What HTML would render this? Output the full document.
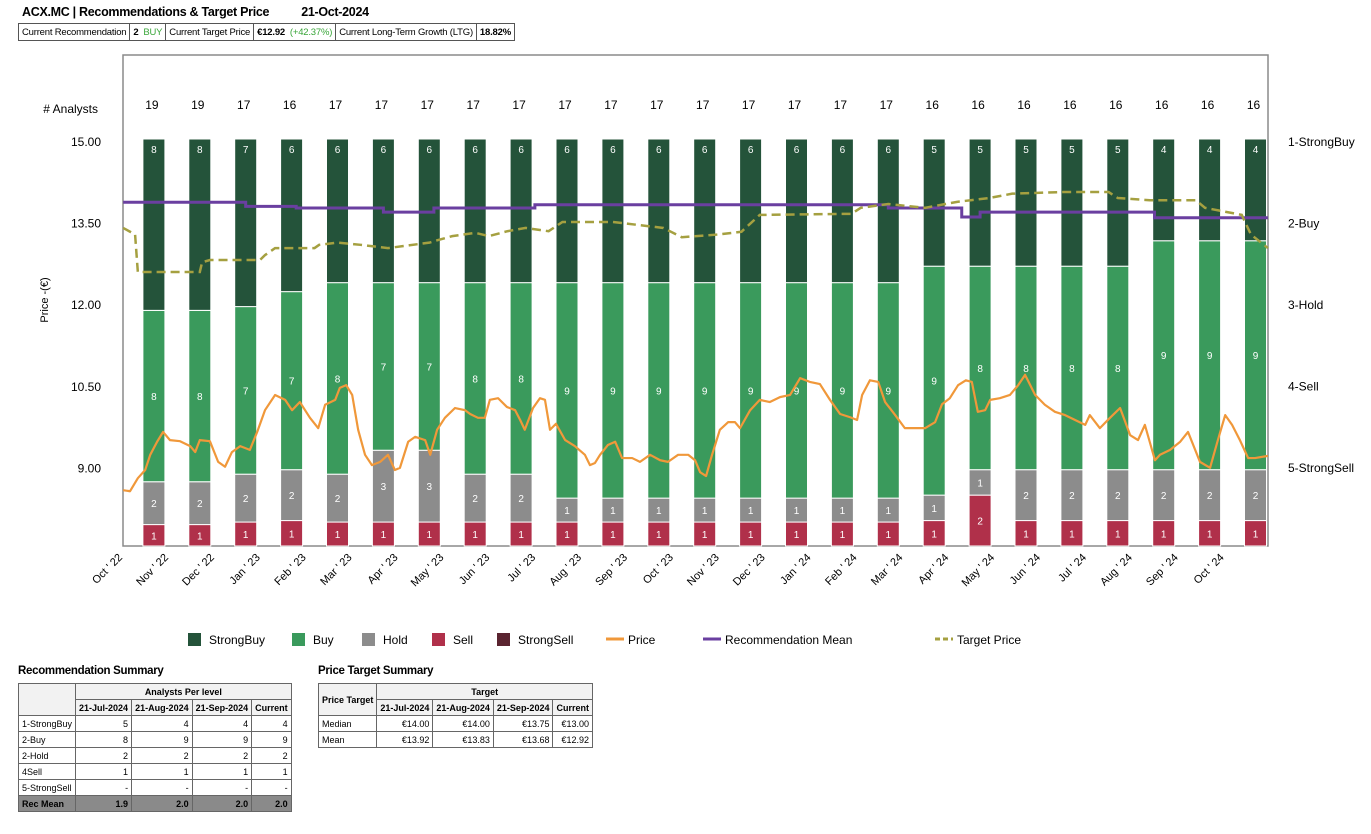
<!DOCTYPE html>
<html><head><meta charset="utf-8">
<style>
body{margin:0;width:1371px;height:834px;background:#fff;font-family:"Liberation Sans",Arial,sans-serif;position:relative;overflow:hidden}
.title{position:absolute;left:22px;top:5px;font-size:12.5px;font-weight:bold;letter-spacing:-0.3px}
.hdr{position:absolute;left:18px;top:23px;border-collapse:collapse;font-size:9.5px;letter-spacing:-0.2px}
.hdr td{border:1px solid #555;padding:2px 3px;height:12px;white-space:nowrap}
.sec{position:absolute;font-size:11.5px;font-weight:bold;letter-spacing:-0.3px}
table.t{position:absolute;border-collapse:collapse;font-size:9px}
table.t td{border:1px solid #666;padding:1px 3px;height:13px;white-space:nowrap}
.r{text-align:right}.c{text-align:center}.b{font-weight:bold}.g{background:#f2f2f2}
.dk td{background:#8a8a8a;font-weight:bold}
</style></head><body>
<div class="title">ACX.MC | Recommendations &amp; Target Price<span style="margin-left:32px">21-Oct-2024</span></div>
<table class="hdr"><tr>
<td>Current Recommendation</td><td><b>2</b> &nbsp;<span style="color:#3aa63a">BUY</span></td><td>Current Target Price</td><td><b>€12.92</b> &nbsp;<span style="color:#3aa63a">(+42.37%)</span></td><td>Current Long-Term Growth (LTG)</td><td><b>18.82%</b></td></tr></table>

<svg id="chart" width="1371" height="834" style="position:absolute;left:0;top:0"></svg>

<div class="sec" style="left:18px;top:665px">Recommendation Summary</div>
<table class="t" style="left:18px;top:683px;width:272px">
<tr><td class="g" rowspan="2" style="width:50px"></td><td colspan="4" class="c b g">Analysts Per level</td></tr>
<tr class="b c g"><td class="g">21-Jul-2024</td><td class="g">21-Aug-2024</td><td class="g">21-Sep-2024</td><td class="g">Current</td></tr>
<tr><td>1-StrongBuy</td><td class="r">5</td><td class="r">4</td><td class="r">4</td><td class="r">4</td></tr>
<tr><td>2-Buy</td><td class="r">8</td><td class="r">9</td><td class="r">9</td><td class="r">9</td></tr>
<tr><td>2-Hold</td><td class="r">2</td><td class="r">2</td><td class="r">2</td><td class="r">2</td></tr>
<tr><td>4Sell</td><td class="r">1</td><td class="r">1</td><td class="r">1</td><td class="r">1</td></tr>
<tr><td>5-StrongSell</td><td class="r">-</td><td class="r">-</td><td class="r">-</td><td class="r">-</td></tr>
<tr class="dk"><td>Rec Mean</td><td class="r">1.9</td><td class="r">2.0</td><td class="r">2.0</td><td class="r">2.0</td></tr>
</table>
<div class="sec" style="left:318px;top:665px">Price Target Summary</div>
<table class="t" style="left:318px;top:683px;width:275px">
<tr><td class="g b" rowspan="2">Price Target</td><td colspan="4" class="c b g">Target</td></tr>
<tr class="b c"><td class="g">21-Jul-2024</td><td class="g">21-Aug-2024</td><td class="g">21-Sep-2024</td><td class="g">Current</td></tr>
<tr><td>Median</td><td class="r">€14.00</td><td class="r">€14.00</td><td class="r">€13.75</td><td class="r">€13.00</td></tr>
<tr><td>Mean</td><td class="r">€13.92</td><td class="r">€13.83</td><td class="r">€13.68</td><td class="r">€12.92</td></tr>
</table>

<script>
const months=["Oct ' 22","Nov ' 22","Dec ' 22","Jan ' 23","Feb ' 23","Mar ' 23","Apr ' 23","May ' 23","Jun ' 23","Jul ' 23","Aug ' 23","Sep ' 23","Oct ' 23","Nov ' 23","Dec ' 23","Jan ' 24","Feb ' 24","Mar ' 24","Apr ' 24","May ' 24","Jun ' 24","Jul ' 24","Aug ' 24","Sep ' 24","Oct ' 24"];
const strongBuy=[8,8,7,6,6,6,6,6,6,6,6,6,6,6,6,6,6,5,5,5,5,5,4,4,4];
const buy=[8,8,7,7,8,7,7,8,8,9,9,9,9,9,9,9,9,9,8,8,8,8,9,9,9];
const hold=[2,2,2,2,2,3,3,2,2,1,1,1,1,1,1,1,1,1,1,2,2,2,2,2,2];
const sell=[1,1,1,1,1,1,1,1,1,1,1,1,1,1,1,1,1,1,2,1,1,1,1,1,1];
const strongSell=[0,0,0,0,0,0,0,0,0,0,0,0,0,0,0,0,0,0,0,0,0,0,0,0,0];
const priceTicks=[15.00,13.50,12.00,10.50,9.00];
const recLabels=["1-StrongBuy","2-Buy","3-Hold","4-Sell","5-StrongSell"];
const priceT=[0.33,0.48,0.65,0.81,0.92,1.07,1.20,1.35,1.57,1.79,1.90,2.00,2.22,2.40,2.55,2.70,2.88,3.09,3.25,3.42,3.64,3.86,4.01,4.18,4.40,4.58,4.73,4.95,5.05,5.19,5.32,5.45,5.60,5.75,5.93,6.10,6.25,6.36,6.54,6.69,6.91,7.02,7.17,7.34,7.56,7.78,7.89,8.06,8.21,8.32,8.50,8.69,8.87,8.98,9.08,9.26,9.41,9.52,9.63,9.76,9.96,10.17,10.39,10.50,10.61,10.72,10.89,11.05,11.20,11.42,11.59,11.81,12.03,12.20,12.42,12.64,12.79,12.90,13.03,13.16,13.33,13.51,13.66,13.77,13.99,14.20,14.42,14.64,14.86,15.08,15.29,15.51,15.73,15.95,16.17,16.32,16.43,16.60,16.78,16.93,17.15,17.36,17.58,17.80,18.02,18.17,18.34,18.52,18.69,18.82,18.95,19.11,19.22,19.43,19.65,19.83,19.98,20.20,20.41,20.63,20.85,21.07,21.29,21.39,21.61,21.83,22.05,22.27,22.44,22.59,22.81,22.92,23.14,23.36,23.53,23.79,24.01,24.18,24.34,24.49,24.66,24.84,24.99,25.27];
const priceV=[8.60,8.58,8.82,8.97,9.25,9.49,9.67,9.52,9.50,9.41,9.30,9.52,9.50,9.12,9.03,9.30,9.41,9.34,9.67,10.07,10.35,10.26,10.07,10.22,9.93,9.74,10.17,10.26,10.48,10.53,10.35,9.71,9.25,9.06,9.12,9.25,8.97,9.01,9.49,9.58,9.52,9.25,9.71,9.93,10.11,10.07,10.00,9.93,9.93,10.26,10.29,10.13,10.07,9.89,9.71,10.11,10.29,10.26,9.71,9.82,9.52,9.41,9.25,9.06,9.10,9.25,9.43,9.49,9.19,9.19,9.12,9.25,9.15,9.12,9.25,9.25,9.15,8.93,8.86,9.25,9.71,9.85,9.85,9.74,10.07,10.26,10.22,10.31,10.35,10.66,10.59,10.55,10.26,10.00,9.94,9.89,10.35,10.62,10.59,10.22,9.98,9.74,9.74,9.74,9.85,10.18,10.29,10.53,10.62,10.59,10.04,10.07,10.26,10.29,10.35,10.53,10.72,10.35,10.17,10.04,9.98,9.89,9.80,9.98,9.74,9.93,10.11,9.61,9.52,9.80,9.15,9.25,9.34,9.49,9.67,9.12,9.01,9.52,9.98,9.80,9.52,9.19,9.19,9.23];
const targetT=[0.33,0.59,0.65,2.0,2.05,2.22,3.31,3.42,3.64,4.5,4.6,5.0,5.5,6.1,7.0,7.2,7.5,8.0,8.3,8.7,9.1,9.6,9.9,11.0,12.1,12.5,13.3,13.8,14.2,16.2,16.4,17.0,17.8,18.5,19.2,19.7,20.8,21.8,22.0,22.7,23.7,23.9,24.7,24.9,25.27];
const targetV=[13.42,13.30,12.61,12.61,12.79,12.83,12.83,12.92,13.05,13.05,13.11,13.15,13.11,13.05,13.15,13.20,13.27,13.33,13.27,13.36,13.42,13.36,13.53,13.53,13.42,13.25,13.30,13.35,13.66,13.68,13.79,13.86,13.79,13.90,13.97,14.05,14.08,14.08,13.97,13.93,13.93,13.79,13.66,13.30,13.05];
const recT=[0.33,3.0,4.1,6.0,7.1,9.3,17.0,18.6,19.0,22.8,25.27];
const recV=[1.74,1.79,1.81,1.86,1.81,1.77,1.81,1.92,1.86,1.93,1.93];

const NS="http://www.w3.org/2000/svg";
const svg=document.getElementById('chart');
const L=123,R=1268,T=55,B=546;
const x=t=>108+t*45.9;
const yP=p=>142+(15-p)*54.4;
const yR=r=>142+(r-1)*81.5;
const barTop=139;
function mk(tag,a,parent){const e=document.createElementNS(NS,tag);for(const k in a)e.setAttribute(k,a[k]);(parent||svg).appendChild(e);return e;}

const frame=mk('rect',{x:L,y:T,width:R-L,height:B-T,fill:'none',stroke:'#8a8a8a','stroke-width':1.5});



priceTicks.forEach(p=>{const t=mk('text',{x:101,y:yP(p)+4,'text-anchor':'end','font-size':12});t.textContent=p.toFixed(2);

});
recLabels.forEach((s,i)=>{const t=mk('text',{x:1288,y:yR(i+1)+4,'font-size':12});t.textContent=s;

});
const yt=mk('text',{x:0,y:0,'font-size':11,transform:'translate(48,300) rotate(-90)','text-anchor':'middle'});yt.textContent='Price -(€)';


const an=mk('text',{x:98,y:113,'text-anchor':'end','font-size':12});an.textContent='# Analysts';



const cols={sb:'#24533a',buy:'#3a9a5c',hold:'#8c8c8c',sell:'#b0304a',ss:'#5a2430'};
for(let i=0;i<strongBuy.length;i++){
  const cx=x(i+1),w=22;
  const tot=strongBuy[i]+buy[i]+hold[i]+sell[i]+strongSell[i];
  const u=(B-barTop)/tot;
  let yb=B;
  const segs=[[strongSell[i],cols.ss,'strongsell'],[sell[i],cols.sell,'sell'],[hold[i],cols.hold,'hold'],[buy[i],cols.buy,'buy'],[strongBuy[i],cols.sb,'strongbuy']];
  segs.forEach(s=>{if(!s[0])return;const h=s[0]*u;
    const r=mk('rect',{x:cx-w/2,y:yb-h,width:w,height:h,fill:s[1],stroke:'#fff','stroke-width':1});
    
    
    const ly=s[2]==='strongbuy'?(yb-h+14):(yb-h/2+4);
    const tx=mk('text',{x:cx,y:ly,'text-anchor':'middle','font-size':10,fill:'#fff'});tx.textContent=s[0];
    yb-=h;});
  const ct=mk('text',{x:cx-2,y:109,'text-anchor':'middle','font-size':12});ct.textContent=tot;
  
  
}
months.forEach((m,i)=>{const t=mk('text',{x:0,y:0,'font-size':11,'text-anchor':'end',transform:`translate(${x(i)+15},${558}) rotate(-45)`});t.textContent=m;

});

let d='';recT.forEach((t,i)=>{d+=(i?`H${x(t)}V${yR(recV[i])}`:`M${x(t)},${yR(recV[i])}`);});
const rl=mk('path',{d:d,fill:'none',stroke:'#6a3fa0','stroke-width':3});


d='';targetT.forEach((t,i)=>{d+=(i?`L${x(t)},${yP(targetV[i])}`:`M${x(t)},${yP(targetV[i])}`);});
const tl=mk('path',{d:d,fill:'none',stroke:'#a5a040','stroke-width':2.5,'stroke-dasharray':'9,5'});


d='';priceT.forEach((t,i)=>{d+=(i?'L':'M')+x(t)+','+yP(priceV[i]);});
const pl=mk('path',{d:d,fill:'none',stroke:'#f0983a','stroke-width':2.2,'stroke-linejoin':'round'});



const leg=[['StrongBuy','sq',cols.sb,188],['Buy','sq',cols.buy,292],['Hold','sq',cols.hold,362],['Sell','sq',cols.sell,432],['StrongSell','sq',cols.ss,497],['Price','ln','#f0983a',606],['Recommendation Mean','ln','#6a3fa0',703],['Target Price','ds','#a5a040',935]];
leg.forEach(l=>{const g=mk('g',{});


if(l[1]==='sq')mk('rect',{x:l[3],y:633,width:13,height:13,fill:l[2]},g);
else mk('line',{x1:l[3],x2:l[3]+18,y1:639,y2:639,stroke:l[2],'stroke-width':3,'stroke-dasharray':l[1]==='ds'?'5,3':'none'},g);
const t=mk('text',{x:l[3]+(l[1]==='sq'?21:22),y:644,'font-size':12},g);t.textContent=l[0];});
</script>
</body></html>
